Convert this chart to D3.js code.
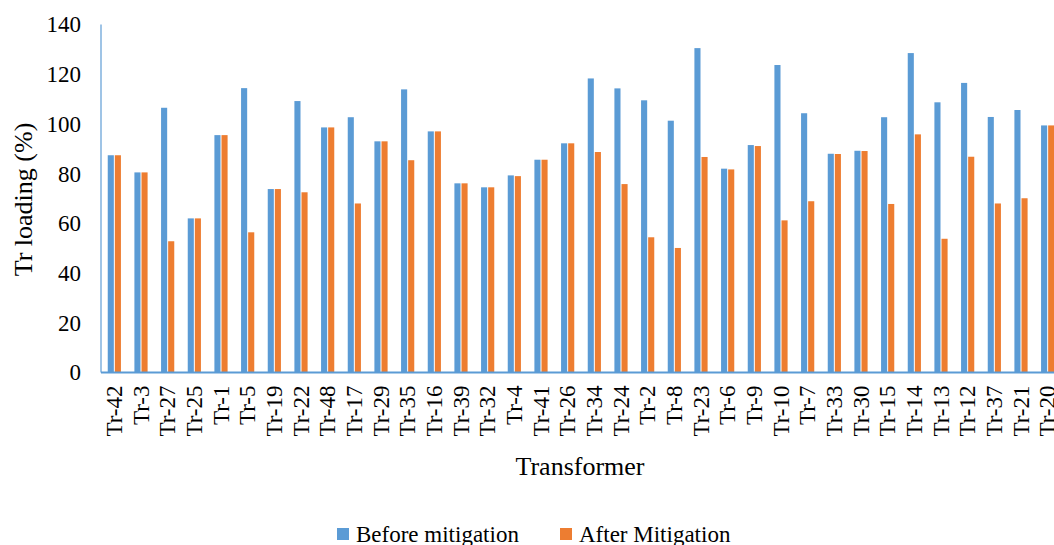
<!DOCTYPE html>
<html>
<head>
<meta charset="utf-8">
<script src="https://cdn.jsdelivr.net/npm/d3@7"></script>
<style>
  html, body { margin: 0; padding: 0; background: #fff; }
  svg { display: block; }
  text { font-family: "Liberation Serif", "Times New Roman", serif; fill: #000; }
</style>
</head>
<body>
<svg id="chart" width="1054" height="545"></svg>
<script>
// Transformer loading (%) before and after mitigation
const categories = ["Tr-42","Tr-3","Tr-27","Tr-25","Tr-1","Tr-5","Tr-19","Tr-22","Tr-48","Tr-17",
  "Tr-29","Tr-35","Tr-16","Tr-39","Tr-32","Tr-4","Tr-41","Tr-26","Tr-34","Tr-24","Tr-2","Tr-8",
  "Tr-23","Tr-6","Tr-9","Tr-10","Tr-7","Tr-33","Tr-30","Tr-15","Tr-14","Tr-13","Tr-12","Tr-37","Tr-21","Tr-20"];

const beforeMitigation = [87.4, 80.5, 106.5, 62.0, 95.5, 114.4, 73.8, 109.2, 98.6, 102.7,
  93.0, 113.9, 97.0, 76.1, 74.5, 79.3, 85.6, 92.2, 118.3, 114.3, 109.5, 101.3,
  130.5, 82.0, 91.5, 123.7, 104.3, 88.0, 89.2, 102.7, 128.5, 108.7, 116.5, 102.8, 105.6, 99.4];

const afterMitigation = [87.4, 80.5, 52.8, 62.0, 95.5, 56.4, 73.8, 72.5, 98.6, 68.0,
  93.0, 85.4, 97.0, 76.1, 74.5, 79.0, 85.6, 92.2, 88.7, 75.8, 54.4, 50.1,
  86.7, 81.7, 91.1, 61.2, 68.9, 87.9, 89.1, 67.8, 95.8, 53.8, 86.8, 68.0, 70.1, 99.4];

const yTicks = [0, 20, 40, 60, 80, 100, 120, 140];
const seriesNames = ["Before mitigation", "After Mitigation"];
const seriesColors = ["#5B9BD5", "#ED7D31"];

const svg = d3.select("#chart");
const plot = { left: 101, right: 1061, top: 24.5, bottom: 372.5 };

const y = d3.scaleLinear().domain([0, 140]).range([plot.bottom, plot.top]);
const x0 = d3.scaleBand().domain(categories).range([plot.left, plot.right]).padding(0);
const x1 = d3.scaleBand().domain(seriesNames).range([0, x0.bandwidth()])
  .paddingInner(0.14).paddingOuter(0.95);

const rows = categories.map((c, i) => ({
  cat: c,
  values: [beforeMitigation[i], afterMitigation[i]]
}));

// Bars
const groups = svg.append("g").selectAll("g")
  .data(rows).join("g")
  .attr("transform", d => `translate(${x0(d.cat)},0)`);

groups.selectAll("rect")
  .data(d => d.values.map((v, k) => ({ v, k })))
  .join("rect")
  .attr("x", d => x1(seriesNames[d.k]))
  .attr("width", x1.bandwidth())
  .attr("y", d => y(d.v))
  .attr("height", d => y(0) - y(d.v))
  .attr("fill", d => seriesColors[d.k]);

// Y axis (labels only, blue axis line)
const yAxis = d3.axisLeft(y).tickValues(yTicks).tickSize(0).tickPadding(20);
const gy = svg.append("g").attr("transform", `translate(${plot.left},0)`).call(yAxis);
gy.select(".domain").remove();
gy.selectAll("text").style("font-size", "23px");
svg.append("line")
  .attr("x1", plot.left).attr("x2", plot.left)
  .attr("y1", y(140)).attr("y2", y(0))
  .attr("stroke", "#7FB0DE").attr("stroke-width", 1.5);

// X axis
const xAxis = d3.axisBottom(x0).tickSize(0).tickPadding(0);
const gx = svg.append("g").attr("transform", `translate(0,${plot.bottom})`).call(xAxis);
gx.select(".domain").remove();
gx.selectAll("text")
  .style("font-size", "23px")
  .attr("text-anchor", "end")
  .attr("transform", "rotate(-90)")
  .attr("x", -13)
  .attr("y", 0)
  .attr("dy", "0.34em");
svg.append("line")
  .attr("x1", plot.left).attr("x2", plot.right)
  .attr("y1", y(0)).attr("y2", y(0))
  .attr("stroke", "#5B9BD5").attr("stroke-width", 2);

// Axis titles
svg.append("text")
  .attr("x", (plot.left + plot.right) / 2 - 1)
  .attr("y", 475)
  .attr("text-anchor", "middle")
  .style("font-size", "26px")
  .text("Transformer");

svg.append("text")
  .attr("transform", `translate(32,${(plot.top + plot.bottom) / 2 + 1}) rotate(-90)`)
  .attr("text-anchor", "middle")
  .style("font-size", "26px")
  .text("Tr loading (%)");

// Legend
const legendX = [337, 560];
const legend = svg.append("g");
seriesNames.forEach((name, k) => {
  legend.append("rect")
    .attr("x", legendX[k]).attr("y", 528)
    .attr("width", 12).attr("height", 12)
    .attr("fill", seriesColors[k]);
  legend.append("text")
    .attr("x", legendX[k] + 19).attr("y", 542)
    .style("font-size", "23px")
    .text(name);
});
</script>
</body>
</html>
